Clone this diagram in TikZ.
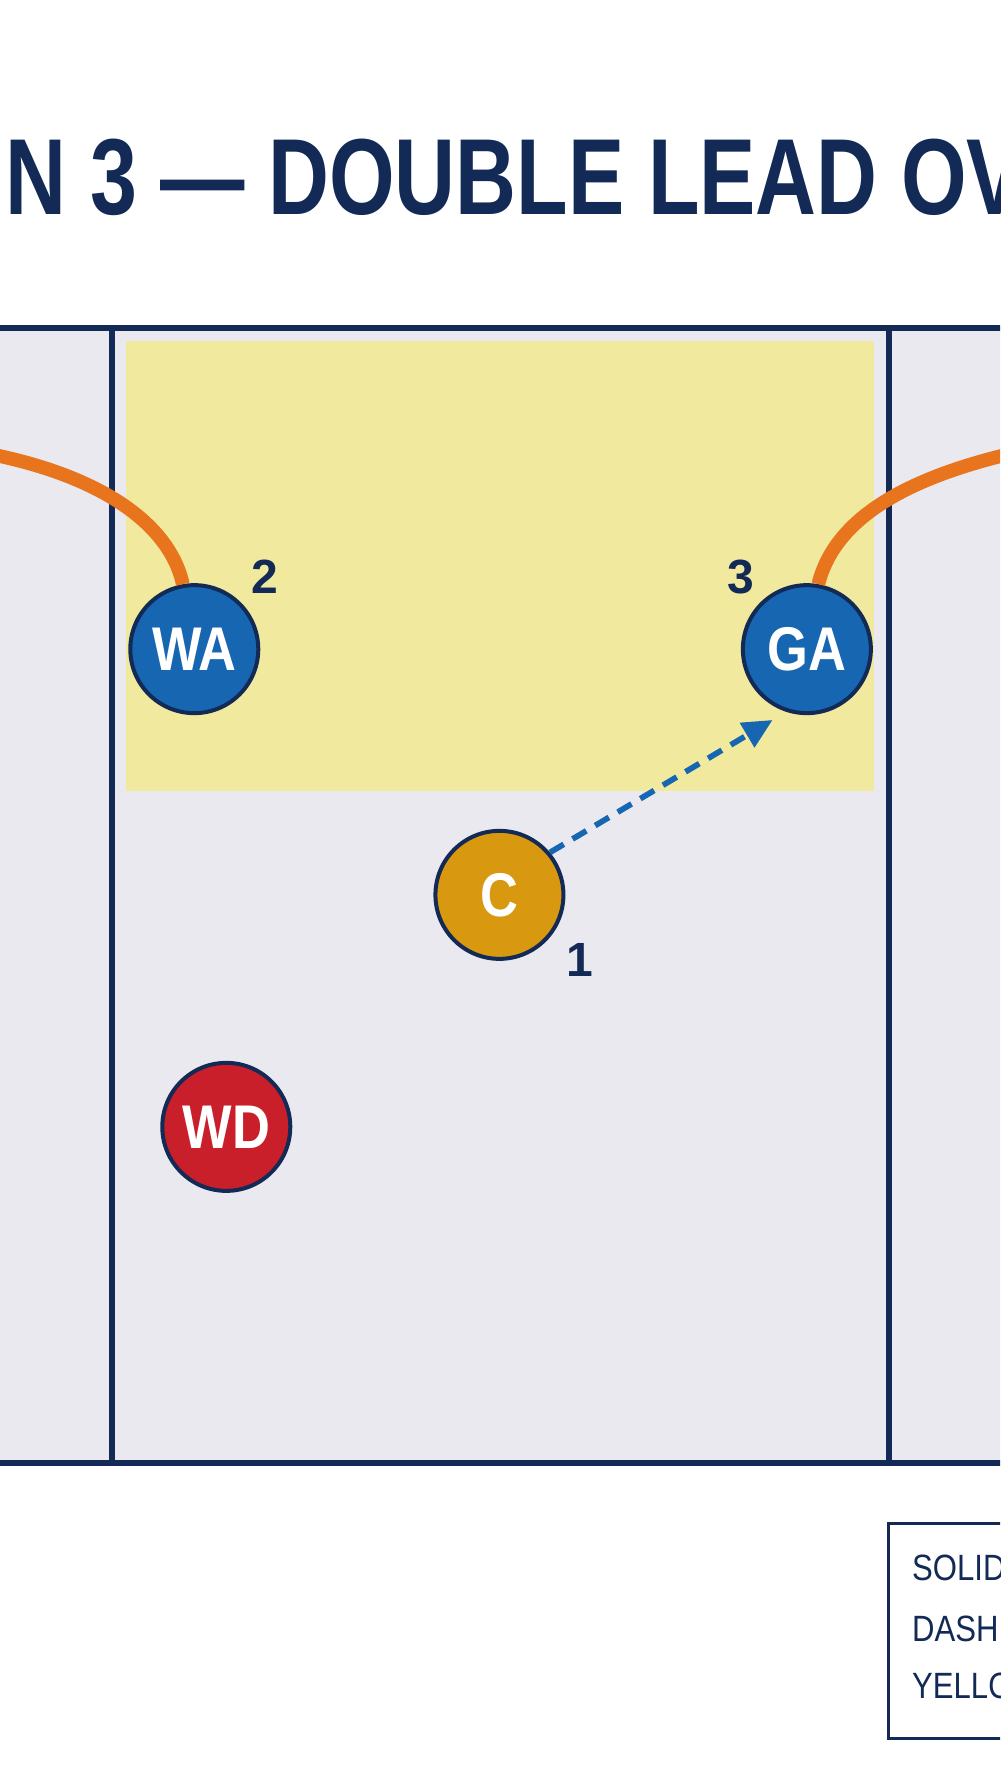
\documentclass[tikz,border=0pt]{standalone}
\usepackage{fontspec}
\setmainfont{Liberation Sans}
\usetikzlibrary{arrows.meta}
\definecolor{navy}{HTML}{122A55}
\definecolor{court}{HTML}{E9E9EF}
\definecolor{zone}{HTML}{F1EA9E}
\definecolor{pblue}{HTML}{1666B2}
\definecolor{pgold}{HTML}{D8980F}
\definecolor{pred}{HTML}{C81F2A}
\definecolor{orng}{HTML}{E8741E}
\tikzset{
 player/.style={circle,draw=navy,line width=3.5pt,minimum size=112pt,inner sep=0pt,text=white,font=\bfseries\fontsize{54}{54}\selectfont},
 num/.style={text=navy,font=\bfseries\fontsize{42}{42}\selectfont,inner sep=0pt},
 run/.style={orng,line width=12pt},
 pass/.style={pblue,line width=5pt,dash pattern=on 14pt off 9pt,-{Triangle[length=26pt,width=24pt]}},
 legtxt/.style={text=navy,anchor=west,inner sep=0pt,font=\fontsize{32}{32}\selectfont}
}
\begin{document}
\begin{tikzpicture}[x=1pt,y=-1pt]
\useasboundingbox (0,0) rectangle (875,1568);
\clip (0,0) rectangle (875,1568);
\fill[white] (0,0) rectangle (875,1568);
\fill[court] (-10,287) rectangle (885,1280);
\fill[zone] (110,298) rectangle (765,692);
\draw[navy,line width=5pt] (-10,287) -- (885,287) (-10,1280) -- (885,1280);
\draw[navy,line width=5pt] (98,287) -- (98,1280) (778,287) -- (778,1280);
\node[anchor=west,inner sep=0pt,text=navy] (title) at (5,155) {\resizebox{890pt}{66pt}{\bfseries N 3 — DOUBLE LEAD OV}};
\coordinate (lstart) at (-5,398);
\coordinate (rstart) at (880,398);
\node[player,fill=pblue] (wa) at (170,568) {\scalebox{0.85}[1]{WA}};
\node[player,fill=pblue] (ga) at (706,568) {\scalebox{0.85}[1]{GA}};
\node[player,fill=pgold] (c) at (437,783) {\scalebox{0.85}[1]{C}};
\node[player,fill=pred] (wd) at (198,986) {\scalebox{0.85}[1]{WD}};
\draw[run] (lstart) .. controls (100,420) and (150,465) .. (wa.100);
\draw[run] (rstart) .. controls (790,420) and (730,455) .. (ga.80);
\node[num] (n2) at (232,505) {2};
\node[num] (n3) at (648,505) {3};
\node[num] (n1) at (507,840) {1};
\coordinate (passend) at (676,630);
\draw[pass] (c.40) -- (passend);
\node[draw=navy,line width=2.5pt,fill=white,minimum width=140pt,minimum height=188pt,anchor=north west] (legend) at (776,1332) {};
\node[legtxt] (l1) at (798,1372) {\scalebox{0.85}[1]{SOLID}};
\node[legtxt] (l2) at (798,1425) {\scalebox{0.85}[1]{DASHED}};
\node[legtxt] (l3) at (798,1475) {\scalebox{0.85}[1]{YELLOW}};
\end{tikzpicture}
\end{document}
